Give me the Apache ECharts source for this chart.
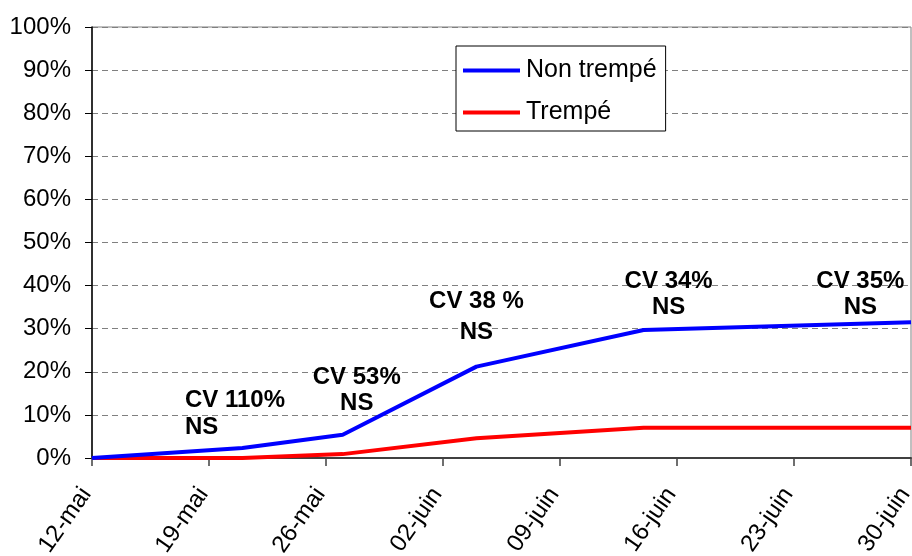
<!DOCTYPE html>
<html>
<head>
<meta charset="utf-8">
<script src="https://cdn.jsdelivr.net/npm/echarts@6/dist/echarts.min.js"></script>
<style>
  html, body { margin: 0; padding: 0; background: #fff; }
  #chart { width: 912px; height: 556px; }
</style>
</head>
<body>
<div id="chart"></div>
<script>
// Observation dates and cumulative percentages per treatment
const startDate = '2000-05-12';
const sampleDates = ['2000-05-12', '2000-05-21', '2000-05-27', '2000-06-04', '2000-06-14', '2000-06-30'];
const nonTrempe = [0, 2.3, 5.4, 21.2, 29.7, 31.5];
const trempe = [0, 0, 0.9, 4.6, 7.0, 7.0];

// Weekly tick labels along the date axis
const tickLabels = ['12-mai', '19-mai', '26-mai', '02-juin', '09-juin', '16-juin', '23-juin', '30-juin'];

// Statistical notes over the curves: day offset from start, y %, text
const noteX = [5.56, 15.84, 23.0, 34.5, 45.97];
const noteY = [10.3, 15.7, 32.7, 37.9, 37.9];
const noteText = ['CV 110%\nNS', 'CV 53%\nNS', 'CV 38 %\nNS', 'CV 34%\nNS', 'CV 35%\nNS'];
const noteAlign = ['left', 'center', 'center', 'center', 'center'];
const noteLineHeight = [27, 26, 31, 26, 26];

const DAY = 86400000;
const dayOffset = d => Math.round((Date.parse(d) - Date.parse(startDate)) / DAY);

const FONT = '"Liberation Sans", Arial, sans-serif';

const chart = echarts.init(document.getElementById('chart'), null, { renderer: 'canvas' });

chart.setOption({
  animation: false,
  backgroundColor: '#ffffff',
  grid: {
    left: 92, right: 1, top: 27, bottom: 98,
    outerBoundsMode: 'none',
    containLabel: false,
    show: true, borderColor: '#808080', borderWidth: 1, backgroundColor: 'transparent'
  },
  legend: {
    orient: 'vertical',
    left: 456, top: 46,
    padding: [12, 9, 6, 7],
    itemGap: 17,
    itemWidth: 57, itemHeight: 4,
    borderColor: '#000', borderWidth: 1,
    backgroundColor: '#fff',
    icon: 'rect',
    textStyle: { fontFamily: FONT, fontSize: 25, color: '#000', padding: [0, 0, 0, 1] },
    data: ['Non trempé', 'Trempé']
  },
  xAxis: {
    type: 'value',
    min: 0, max: 49, interval: 7,
    axisLine: { show: true, lineStyle: { color: '#404040', width: 2 } },
    axisTick: { show: true, length: 8, lineStyle: { color: '#404040', width: 1.5 } },
    splitLine: { show: false },
    axisLabel: {
      rotate: 55,
      margin: 24,
      padding: [0, 10, 0, 0],
      fontFamily: FONT, fontSize: 24, color: '#000',
      formatter: v => tickLabels[Math.round(v / 7)] || ''
    }
  },
  yAxis: {
    type: 'value',
    min: 0, max: 100, interval: 10,
    axisLine: { show: true, lineStyle: { color: '#000', width: 1.5 } },
    axisTick: { show: true, length: 7, lineStyle: { color: '#000', width: 1 } },
    splitLine: { show: true, lineStyle: { color: '#808080', type: [6, 4], width: 1.2 } },
    axisLabel: {
      margin: 21,
      fontFamily: FONT, fontSize: 24, color: '#000',
      formatter: v => v + '%'
    }
  },
  series: [
    {
      name: 'Non trempé',
      type: 'line',
      data: sampleDates.map((d, i) => [dayOffset(d), nonTrempe[i]]),
      showSymbol: false,
      symbol: 'none',
      lineStyle: { color: '#0000ff', width: 4 },
      itemStyle: { color: '#0000ff' },
      z: 3
    },
    {
      name: 'Trempé',
      type: 'line',
      data: sampleDates.map((d, i) => [dayOffset(d), trempe[i]]),
      showSymbol: false,
      symbol: 'none',
      lineStyle: { color: '#ff0000', width: 4 },
      itemStyle: { color: '#ff0000' },
      z: 2
    },
    {
      name: 'notes',
      type: 'scatter',
      symbolSize: 0,
      silent: true,
      z: 5,
      label: {
        show: true,
        position: 'inside',
        verticalAlign: 'middle',
        fontFamily: FONT, fontSize: 24, fontWeight: 'bold', color: '#000',
        opacity: 1,
        textBorderWidth: 0,
        formatter: p => noteText[p.dataIndex]
      },
      data: noteX.map((x, i) => ({
        value: [x, noteY[i]],
        label: { align: noteAlign[i], lineHeight: noteLineHeight[i], color: '#000' }
      }))
    }
  ]
});
</script>
</body>
</html>
